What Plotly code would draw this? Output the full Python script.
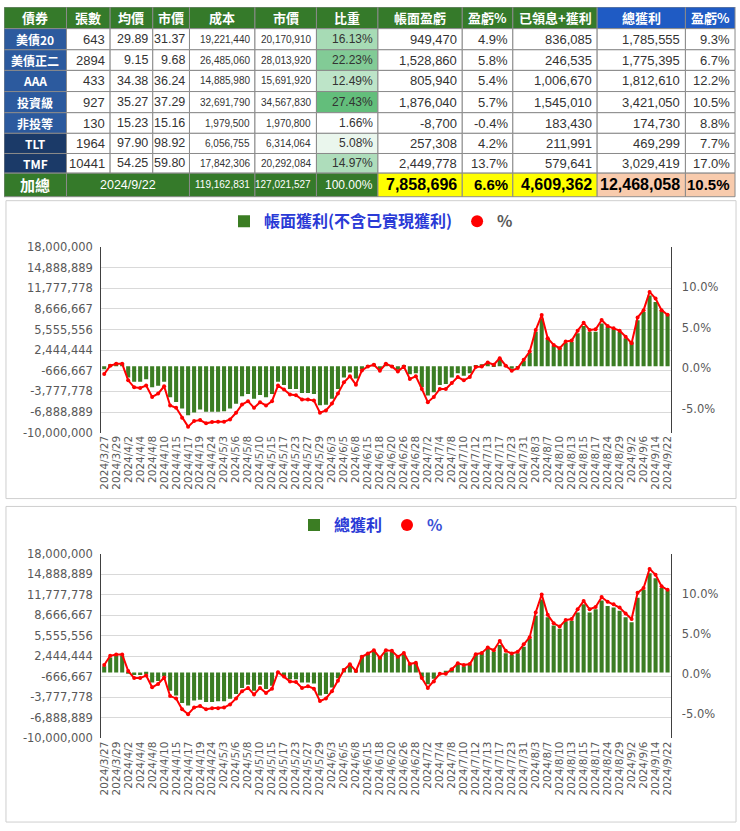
import plotly.graph_objs as go

# ---------------- table data ----------------
headers = ["債券", "張數", "均價", "市價", "成本", "市價", "比重",
           "帳面盈虧", "盈虧%", "已領息+獲利", "總獲利", "盈虧%"]
names = ["美債20", "美債正二", "AAA", "投資級", "非投等", "TLT", "TMF"]
shares = [643, 2894, 433, 927, 130, 1964, 10441]
avg_price = [29.89, 9.15, 34.38, 35.27, 15.23, 97.90, 54.25]
mkt_price = [31.37, 9.68, 36.24, 37.29, 15.16, 98.92, 59.80]
cost = [19221440, 26485060, 14885980, 32691790, 1979500, 6056755, 17842306]
mkt_value = [20170910, 28013920, 15691920, 34567830, 1970800, 6314064, 20292084]
weight = [16.13, 22.23, 12.49, 27.43, 1.66, 5.08, 14.97]
book_pl = [949470, 1528860, 805940, 1876040, -8700, 257308, 2449778]
book_pl_pct = [4.9, 5.8, 5.4, 5.7, -0.4, 4.2, 13.7]
realized = [836085, 246535, 1006670, 1545010, 183430, 211991, 579641]
total_pl = [1785555, 1775395, 1812610, 3421050, 174730, 469299, 3029419]
total_pl_pct = [9.3, 6.7, 12.2, 10.5, 8.8, 7.7, 17.0]
total_label = "加總"
total_date = "2024/9/22"
total_cost = 119162831
total_value = 127021527
total_weight = 100.00
total_book_pl = 7858696
total_book_pct = 6.6
total_realized = 4609362
total_profit = 12468058
total_profit_pct = 10.5

# ---------------- chart data ----------------
dates = ["2024/3/27", "2024/3/28", "2024/3/29", "2024/4/1", "2024/4/2", "2024/4/3", "2024/4/4", "2024/4/6",
         "2024/4/8", "2024/4/9", "2024/4/10", "2024/4/12", "2024/4/15", "2024/4/16", "2024/4/17", "2024/4/18",
         "2024/4/19", "2024/4/22", "2024/4/24", "2024/4/29", "2024/5/3", "2024/5/4", "2024/5/6", "2024/5/7",
         "2024/5/8", "2024/5/9", "2024/5/10", "2024/5/13", "2024/5/15", "2024/5/16", "2024/5/17", "2024/5/21",
         "2024/5/23", "2024/5/24", "2024/5/27", "2024/5/28", "2024/5/29", "2024/5/31", "2024/6/3", "2024/6/4",
         "2024/6/5", "2024/6/6", "2024/6/8", "2024/6/12", "2024/6/15", "2024/6/17", "2024/6/18", "2024/6/19",
         "2024/6/20", "2024/6/22", "2024/6/26", "2024/6/27", "2024/6/28", "2024/7/1", "2024/7/2", "2024/7/3",
         "2024/7/4", "2024/7/5", "2024/7/8", "2024/7/9", "2024/7/10", "2024/7/11", "2024/7/12", "2024/7/12",
         "2024/7/13", "2024/7/15", "2024/7/17", "2024/7/19", "2024/7/23", "2024/7/26", "2024/7/31", "2024/8/2",
         "2024/8/3", "2024/8/5", "2024/8/7", "2024/8/9", "2024/8/10", "2024/8/12", "2024/8/13", "2024/8/14",
         "2024/8/15", "2024/8/16", "2024/8/17", "2024/8/21", "2024/8/24", "2024/8/27", "2024/8/29", "2024/8/31",
         "2024/9/2", "2024/9/4", "2024/9/6", "2024/9/10", "2024/9/14", "2024/9/18", "2024/9/22"]

# 帳面獲利, millions of NT$
book_gain_m = [-0.44, 0.3, 0.5, 0.5, -1.68, -2.32, -2.32, -1.93, -3.16, -2.91,
               -2.32, -4.64, -5.38, -6.37, -7.36, -6.96, -6.52, -6.86, -6.86, -6.86,
               -6.77, -6.37, -5.63, -4.49, -4.15, -4.89, -4.30, -4.64, -4.15, -2.32,
               -2.81, -3.41, -3.41, -4.00, -4.00, -4.15, -5.88, -5.78, -4.89, -3.41,
               -1.68, -0.94, -1.83, -0.44, 0.10, 0.40, -0.50, 0.50, 0.10, -0.50,
               0.10, -1.19, -1.04, -3.16, -4.40, -3.90, -2.81, -2.67, -1.68, -1.04,
               -1.43, -1.04, 0.15, 0.30, 0.54, 0.30, 1.04, 0.15, -0.35, -0.20,
               0.79, 2.02, 5.23, 7.21, 4.25, 3.11, 2.77, 3.51, 3.65, 4.99,
               6.07, 5.23, 5.23, 6.47, 5.98, 5.58, 5.23, 4.25, 3.75, 6.96,
               8.20, 10.67, 9.68, 8.44, 7.86]
book_gain_pct = [-0.74, 0.29, 0.53, 0.53, -1.52, -2.38, -2.46, -2.17, -3.57, -3.16,
                 -2.25, -4.63, -4.92, -6.15, -7.25, -6.56, -6.43, -6.84, -6.68, -6.64,
                 -6.64, -6.35, -5.53, -4.51, -4.10, -4.92, -4.22, -4.63, -4.10, -2.17,
                 -2.66, -3.28, -3.36, -3.89, -3.89, -4.02, -5.53, -5.25, -4.39, -3.16,
                 -1.76, -1.02, -2.05, -0.29, 0.20, 0.41, -0.33, 0.53, 0.20, -0.41,
                 0.20, -1.35, -1.02, -2.58, -4.22, -3.57, -2.58, -2.58, -1.84, -1.11,
                 -1.52, -1.11, 0.12, 0.20, 0.70, 0.41, 1.23, 0.29, -0.33, 0.00,
                 1.02, 2.05, 4.71, 6.56, 3.69, 2.87, 2.46, 3.28, 3.40, 4.63,
                 5.61, 4.71, 4.80, 5.94, 5.20, 4.92, 4.63, 3.89, 3.07, 6.27,
                 7.17, 9.43, 8.61, 7.17, 6.60]

# 總獲利, millions of NT$
total_gain_m = [0.94, 2.27, 2.57, 2.57, -0.05, -0.40, -0.40, -0.30, -1.53, -1.28,
                -0.54, -2.77, -3.51, -4.64, -4.99, -4.25, -4.15, -4.49, -4.49, -4.35,
                -4.35, -4.00, -3.26, -2.37, -1.88, -2.77, -1.88, -2.52, -2.02, -0.05,
                -0.54, -1.04, -1.04, -1.53, -1.53, -1.68, -3.51, -3.26, -2.27, -0.89,
                0.59, 1.19, 0.44, 2.57, 2.91, 3.16, 2.42, 3.06, 3.16, 2.42,
                2.67, 1.19, 1.43, -0.79, -1.78, -0.94, 0.00, 0.20, 0.69, 1.19,
                0.94, 1.19, 2.67, 2.91, 3.65, 3.16, 4.15, 2.91, 2.67, 2.91,
                3.90, 5.14, 8.59, 11.06, 8.35, 7.11, 6.62, 7.75, 7.85, 9.09,
                10.32, 9.09, 9.58, 10.91, 10.07, 9.83, 9.33, 8.35, 7.60, 11.31,
                12.54, 15.01, 14.27, 12.79, 12.47]
total_gain_pct = [1.14, 2.29, 2.45, 2.45, 0.41, -0.49, -0.49, -0.16, -1.63, -1.22,
                  -0.41, -2.73, -3.02, -4.37, -4.98, -4.16, -3.96, -4.37, -4.24, -4.24,
                  -4.16, -3.76, -3.02, -2.12, -1.71, -2.53, -1.71, -2.33, -1.80, 0.24,
                  -0.29, -0.90, -0.98, -1.71, -1.51, -1.80, -3.35, -3.02, -2.12, -0.82,
                  0.53, 1.22, 0.41, 2.16, 2.57, 2.98, 2.04, 2.98, 2.90, 2.16,
                  2.65, 1.27, 1.43, -0.49, -1.71, -0.90, 0.04, 0.04, 0.61, 1.35,
                  1.14, 1.27, 2.49, 2.65, 3.31, 2.98, 4.12, 2.90, 2.57, 2.78,
                  3.71, 4.61, 7.67, 9.92, 7.39, 6.33, 5.92, 6.73, 6.86, 8.08,
                  9.10, 8.08, 8.37, 9.59, 9.02, 8.69, 8.29, 7.55, 6.86, 10.12,
                  10.73, 13.10, 12.37, 10.94, 10.50]

left_min, left_max, left_steps = -10_000_000, 18_000_000, 9
pct_ticks = [-5, 0, 5, 10]

W, H = 740, 831
GREEN_BAR = '#3b7d23'
RED = '#ff0000'
HEAD_GREEN = '#357a2a'
HEAD_BLUE = '#1f5bc4'
NAME_BLUE = '#2c5a9e'
NAME_NAVY = '#1b3a68'
GRID = '#d9d9d9'
TICK = '#595959'
TXT = '#333333'
CJK = "Noto Sans CJK TC"
NUM = "Liberation Sans"


def py(y):
    return 1 - y / H


def green_scale(w):
    t = (w - min(weight)) / (max(weight) - min(weight))
    r = round(255 + t * (0x63 - 255))
    g = round(255 + t * (0xbe - 255))
    b = round(255 + t * (0x7b - 255))
    return f'rgb({r},{g},{b})'


fig = go.Figure()

# ---------------- table (drawn on a hidden pixel axis) ----------------
col_edges = [0, 63, 107, 150, 187, 253, 315, 377, 462, 513, 598, 687, 737]
row_edges = [0, 22, 43.5, 64.5, 86, 107.5, 128.5, 149, 169, 193]
col_size = [12, 13, 12.5, 12.5, 10, 10, 12, 13, 13, 13, 13, 13]

shapes = []
annotations = []


def cell(c0, c1, r, text, fill, color=TXT, size=12, bold=False, align='right', family=NUM):
    x0, x1 = col_edges[c0], col_edges[c1 + 1]
    y0, y1 = row_edges[r], row_edges[r + 1]
    shapes.append(dict(type='rect', xref='x5', yref='y5', x0=x0, x1=x1, y0=y0, y1=y1,
                       fillcolor=fill, line=dict(color='#8a8a8a', width=1), layer='below'))
    if align == 'right':
        xpos, anchor = x1 - 3, 'right'
    else:
        xpos, anchor = (x0 + x1) / 2, 'center'
    annotations.append(dict(xref='x5', yref='y5', x=xpos, y=(y0 + y1) / 2, text=f'<b>{text}</b>' if bold else text,
                            showarrow=False, xanchor=anchor, yanchor='middle',
                            font=dict(family=family, size=size, color=color)))


for c, h in enumerate(headers):
    cell(c, c, 0, h, HEAD_BLUE if c >= 10 else HEAD_GREEN, 'white', 13, True, 'center', CJK)

for i, nm in enumerate(names):
    r = i + 1
    cell(0, 0, r, nm, NAME_NAVY if nm in ("TLT", "TMF") else NAME_BLUE, 'white', 12, True, 'center', CJK)
    vals = [f'{shares[i]}', f'{avg_price[i]:.2f}', f'{mkt_price[i]:.2f}', f'{cost[i]:,}', f'{mkt_value[i]:,}',
            f'{weight[i]:.2f}%', f'{book_pl[i]:,}', f'{book_pl_pct[i]:.1f}%', f'{realized[i]:,}',
            f'{total_pl[i]:,}', f'{total_pl_pct[i]:.1f}%']
    for c, v in enumerate(vals, start=1):
        fill = green_scale(weight[i]) if c == 6 else 'white'
        cell(c, c, r, v, fill, TXT, col_size[c])

r = 8
cell(0, 0, r, total_label, HEAD_GREEN, 'white', 15, True, 'center', CJK)
cell(1, 3, r, total_date, HEAD_GREEN, 'white', 12.5, False, 'center')
cell(4, 4, r, f'{total_cost:,}', HEAD_GREEN, 'white', 10)
cell(5, 5, r, f'{total_value:,}', HEAD_GREEN, 'white', 10)
cell(6, 6, r, f'{total_weight:.2f}%', HEAD_GREEN, 'white', 12)
cell(7, 7, r, f'{total_book_pl:,}', '#ffff00', 'black', 16, True)
cell(8, 8, r, f'{total_book_pct:.1f}%', '#ffff00', 'black', 15, True)
cell(9, 9, r, f'{total_realized:,}', '#ffff00', 'black', 16, True)
cell(10, 10, r, f'{total_profit:,}', '#f8cbad', 'black', 16, True)
cell(11, 11, r, f'{total_profit_pct:.1f}%', '#f8cbad', 'black', 15, True)

# ---------------- charts ----------------
idx = list(range(len(dates)))
left_vals = [left_max - k * (left_max - left_min) / left_steps for k in range(left_steps + 1)]
left_text = [f'{round(v):,}' for v in left_vals]

charts = [
    dict(gain=book_gain_m, pct=book_gain_pct, x='x', y='y', y2='y3', legend='legend',
         name="<span style='color:#2a3ad6'><b>帳面獲利(不含已實現獲利)</b></span>",
         pname="<span style='color:#595959'><b>%</b></span>"),
    dict(gain=total_gain_m, pct=total_gain_pct, x='x2', y='y2', y2='y4', legend='legend2',
         name="<span style='color:#2a3ad6'><b>總獲利</b></span>",
         pname="<span style='color:#3a4fd6'><b>%</b></span>"),
]
for ch in charts:
    fig.add_trace(go.Bar(x=idx, y=[v * 1e6 for v in ch['gain']], xaxis=ch['x'], yaxis=ch['y'],
                         marker=dict(color=GREEN_BAR, line=dict(width=0)), name=ch['name'],
                         legend=ch['legend'], hoverinfo='skip'))
    fig.add_trace(go.Scatter(x=idx, y=ch['pct'], xaxis=ch['x'], yaxis=ch['y2'], mode='lines',
                             line=dict(color=RED, width=2), showlegend=False, hoverinfo='skip'))
    fig.add_trace(go.Scatter(x=idx, y=ch['pct'], xaxis=ch['x'], yaxis=ch['y2'], mode='markers',
                             marker=dict(color=RED, size=4), name=ch['pname'], legend=ch['legend'],
                             hoverinfo='skip'))

xdom = [98 / W, 672 / W]
xcommon = dict(domain=xdom, range=[-0.5, len(idx) - 0.5], tickmode='array', tickvals=idx[::2],
               ticktext=dates[::2], tickangle=-90, showgrid=False, zeroline=False, showline=False,
               ticks='', tickfont=dict(family='DejaVu Sans', size=10.5, color=TICK))
ycommon = dict(range=[left_min, left_max], tickmode='array', tickvals=left_vals, ticktext=left_text,
               showgrid=True, gridcolor=GRID, gridwidth=1, zeroline=False, showline=True,
               linecolor='#404040', linewidth=1, ticks='', ticklabelstandoff=5,
               tickfont=dict(family='DejaVu Sans', size=11.5, color=TICK))
pcommon = dict(range=[-8, 15], tickmode='array', tickvals=pct_ticks,
               ticktext=[f'{v:.1f}%' for v in pct_ticks], showgrid=False, zeroline=False,
               showline=True, linecolor='#404040', linewidth=1, ticks='', side='right',
               ticklabelstandoff=8, tickfont=dict(family='DejaVu Sans', size=11.5, color=TICK))

legend_common = dict(orientation='h', xanchor='center', x=0.5, yanchor='middle',
                     font=dict(family=CJK, size=16), itemsizing='constant',
                     bgcolor='rgba(0,0,0,0)', itemwidth=30, tracegroupgap=0)

shapes.append(dict(type='rect', xref='paper', yref='paper', x0=2 / W, x1=738 / W, y0=py(500), y1=py(197),
                   line=dict(color='#cfcfcf', width=1), layer='below'))
shapes.append(dict(type='rect', xref='paper', yref='paper', x0=2 / W, x1=738 / W, y0=py(829), y1=py(508),
                   line=dict(color='#cfcfcf', width=1), layer='below'))

fig.update_layout(
    width=W, height=H, autosize=False,
    margin=dict(l=0, r=0, t=0, b=0),
    paper_bgcolor='white', plot_bgcolor='rgba(0,0,0,0)',
    bargap=0.32,
    xaxis=dict(xcommon, anchor='y'),
    yaxis=dict(ycommon, domain=[py(433), py(244)], anchor='x'),
    yaxis3=dict(pcommon, overlaying='y', anchor='x'),
    xaxis2=dict(xcommon, anchor='y2'),
    yaxis2=dict(ycommon, domain=[py(744), py(556)], anchor='x2'),
    yaxis4=dict(pcommon, overlaying='y2', anchor='x2'),
    xaxis5=dict(domain=[0, 1], range=[0, W], visible=False, anchor='y5', fixedrange=True),
    yaxis5=dict(domain=[py(194), 1], range=[194, 0], visible=False, anchor='x5', fixedrange=True),
    legend=dict(legend_common, y=py(218)),
    legend2=dict(legend_common, y=py(527)),
    shapes=shapes,
    annotations=annotations,
)

# the page's default body margin would push the figure off the 740x831 window
fig.write_html("out.html", config={'displayModeBar': False},
               post_script="document.body.style.margin='0';")
